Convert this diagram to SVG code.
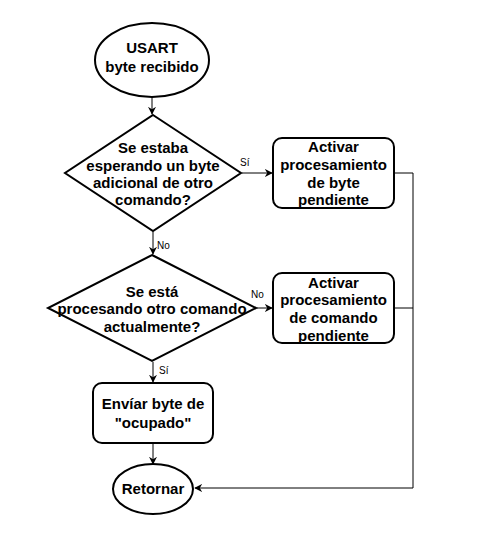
<svg xmlns="http://www.w3.org/2000/svg" width="477" height="552" viewBox="0 0 477 552">
<style>
.s{fill:#fff;stroke:#000;stroke-width:2}
.t{font-family:"Liberation Sans",Arial,sans-serif;font-size:15px;font-weight:bold;text-anchor:middle;fill:#000}
.l{font-family:"Liberation Sans",Arial,sans-serif;font-size:10px;fill:#000}
.c{fill:none;stroke:#000;stroke-width:1}
</style>
<defs>
<marker id="a" viewBox="0 0 10 10" refX="9" refY="5" markerWidth="8" markerHeight="8" markerUnits="userSpaceOnUse" orient="auto">
<path d="M0,0 L10,5 L0,10 L3,5 Z" fill="#000"/>
</marker>
</defs>
<rect width="477" height="552" fill="#fff"/>
<g id="connectors">
<path class="c" d="M152,97 V114" marker-end="url(#a)"/>
<path class="c" d="M242,173 H272" marker-end="url(#a)"/>
<path class="c" d="M153,232 V254" marker-end="url(#a)"/>
<path class="c" d="M257,308 H272" marker-end="url(#a)"/>
<path class="c" d="M153,362 V382" marker-end="url(#a)"/>
<path class="c" d="M153,443 V464" marker-end="url(#a)"/>
<path class="c" d="M394,173 H413 V488 H195" marker-end="url(#a)"/>
<path class="c" d="M394,308 H413"/>
<text class="l" x="240" y="166">Sí</text>
<text class="l" x="157" y="249">No</text>
<text class="l" x="251" y="298">No</text>
<text class="l" x="159" y="374">Sí</text>
</g>
<g id="start">
<ellipse class="s" cx="152" cy="60" rx="57" ry="37"/>
<text class="t" x="152" y="53">USART</text>
<text class="t" x="152" y="72">byte recibido</text>
</g>
<g id="dec1">
<path class="s" d="M153,115 L241,173 L153,231 L65,173 Z"/>
<text class="t" x="153" y="153">Se estaba</text>
<text class="t" x="153" y="171">esperando un byte</text>
<text class="t" x="153" y="188">adicional de otro</text>
<text class="t" x="153" y="205">comando?</text>
</g>
<g id="box1">
<rect class="s" x="273" y="138" width="121" height="70" rx="9"/>
<text class="t" x="333.5" y="152">Activar</text>
<text class="t" x="333.5" y="170">procesamiento</text>
<text class="t" x="333.5" y="188">de byte</text>
<text class="t" x="333.5" y="205">pendiente</text>
</g>
<g id="dec2">
<path class="s" d="M152,255 L256,308 L152,361 L48,308 Z"/>
<text class="t" x="152" y="297">Se está</text>
<text class="t" x="152" y="314">procesando otro comando</text>
<text class="t" x="152" y="332">actualmente?</text>
</g>
<g id="box2">
<rect class="s" x="273" y="273" width="121" height="70" rx="9"/>
<text class="t" x="333.5" y="288">Activar</text>
<text class="t" x="333.5" y="305">procesamiento</text>
<text class="t" x="333.5" y="323">de comando</text>
<text class="t" x="333.5" y="341">pendiente</text>
</g>
<g id="box3">
<rect class="s" x="93" y="383" width="120" height="60" rx="9"/>
<text class="t" x="153" y="409">Envíar byte de</text>
<text class="t" x="153" y="428">"ocupado"</text>
</g>
<g id="end">
<ellipse class="s" cx="153" cy="489" rx="40" ry="25"/>
<text class="t" x="153" y="494">Retornar</text>
</g>
</svg>
